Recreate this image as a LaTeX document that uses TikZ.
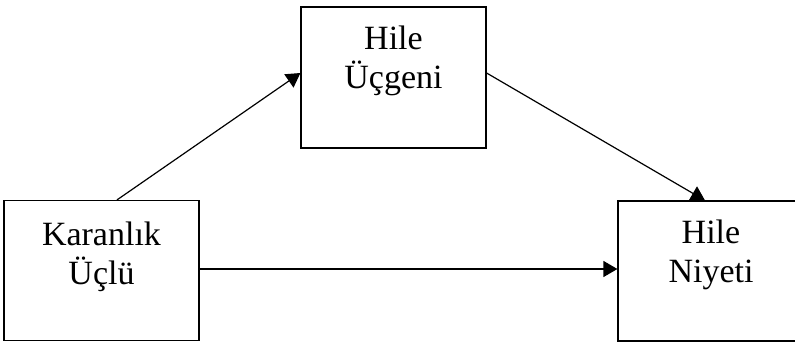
\documentclass[tikz,border=0pt]{standalone}
\usepackage{fontspec}
\setmainfont{Liberation Serif}
\usetikzlibrary{arrows.meta}
\begin{document}
\begin{tikzpicture}[x=1pt,y=-1pt,
  box/.style={draw, line width=1.2pt, inner sep=0pt},
  lbl/.style={align=center, inner sep=0pt, anchor=north,
    font=\fontsize{34}{39}\selectfont},
  link/.style={line width=1.2pt, -{Triangle[length=14pt,width=16pt]}}]
\useasboundingbox (0,0) rectangle (795,342);
\clip (0,0) rectangle (795,342);
% boxes
\node[box, minimum width=195pt, minimum height=140pt] (kara) at (101.5,270.5) {};
\node[box, minimum width=185pt, minimum height=141pt] (ucgen) at (393.5,77.5) {};
\node[box, minimum width=210pt, minimum height=140pt] (niyet) at (723,271) {};
% texts
\node[lbl] (karaT) at (101.5,221.5) {Karanlık\\Üçlü};
\node[lbl] (ucgenT) at (393.5,25.5) {Hile\\Üçgeni};
\node[lbl] (niyetT) at (711,219.5) {Hile\\Niyeti};
% connectors
\draw[link] (kara.north -| 117,0) -- (ucgen.west |- 0,73);
\draw[link] (ucgen.east |- 0,73) -- (niyet.north -| 705,0);
\draw[link] (kara.east |- 0,269) -- (niyet.west |- 0,269);
\end{tikzpicture}
\end{document}
